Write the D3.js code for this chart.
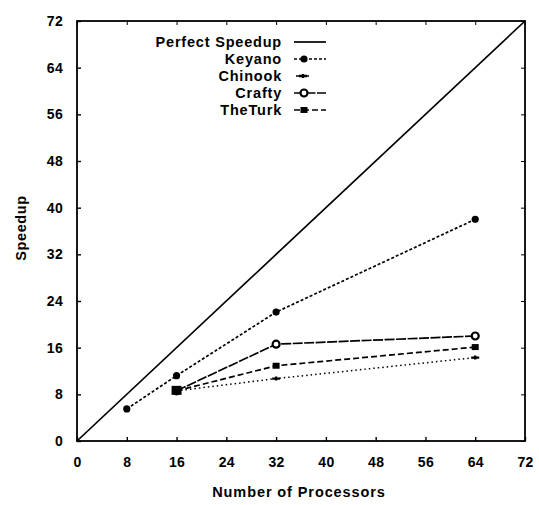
<!DOCTYPE html>
<html>
<head>
<meta charset="utf-8">
<script src="https://cdn.jsdelivr.net/npm/d3@7"></script>
<style>
  body { margin: 0; background: #fff; }
  text { font-family: "Liberation Sans", Arial, sans-serif; font-weight: bold; fill: #000; }
</style>
</head>
<body>
<svg id="chart" width="539" height="505"></svg>
<script>
// Speedup vs number of processors
const xTicks = [0, 8, 16, 24, 32, 40, 48, 56, 64, 72];
const yTicks = [0, 8, 16, 24, 32, 40, 48, 56, 64, 72];

const perfect = [[0, 0], [72, 72]];
const keyano  = [[8, 5.5], [16, 11.2], [32, 22.1], [64, 38.0]];
const chinook = [[16, 8.6], [32, 10.7], [64, 14.3]];
const crafty  = [[16, 8.6], [32, 16.6], [64, 18.0]];
const theTurk = [[16, 8.6], [32, 12.9], [64, 16.1]];

const seriesNames = ["Perfect Speedup", "Keyano", "Chinook", "Crafty", "TheTurk"];

const svg = d3.select("#chart");
const m = { left: 77, right: 525, top: 21, bottom: 441 };

const x = d3.scaleLinear().domain([0, 72]).range([m.left, m.right]);
const y = d3.scaleLinear().domain([0, 72]).range([m.bottom, m.top]);

// frame
svg.append("rect")
  .attr("x", m.left).attr("y", m.top)
  .attr("width", m.right - m.left).attr("height", m.bottom - m.top)
  .attr("fill", "none").attr("stroke", "#000").attr("stroke-width", 1.8);

// inward ticks (mirrored)
const tl = 4;
const xAxB = d3.axisBottom(x).tickValues(xTicks).tickSize(-tl).tickFormat(d => d);
const gx = svg.append("g").attr("transform", `translate(0,${m.bottom})`).call(xAxB);
gx.select(".domain").remove();
gx.selectAll("line").attr("stroke-width", 1.4);
gx.selectAll("text").attr("y", 16).attr("font-size", 14)
  .style("font-weight", "bold").style("letter-spacing", "0.3px");

const xAxT = d3.axisTop(x).tickValues(xTicks).tickSize(-tl).tickFormat("");
const gxt = svg.append("g").attr("transform", `translate(0,${m.top})`).call(xAxT);
gxt.select(".domain").remove();

const yAxL = d3.axisLeft(y).tickValues(yTicks).tickSize(-tl).tickFormat(d => d);
const gy = svg.append("g").attr("transform", `translate(${m.left},0)`).call(yAxL);
gy.select(".domain").remove();
gy.selectAll("line").attr("stroke-width", 1.4);
gy.selectAll("text").attr("x", -14).attr("font-size", 14)
  .style("font-weight", "bold").style("letter-spacing", "0.3px");

const yAxR = d3.axisRight(y).tickValues(yTicks).tickSize(-tl).tickFormat("");
const gyr = svg.append("g").attr("transform", `translate(${m.right},0)`).call(yAxR);
gyr.select(".domain").remove();

// axis titles
svg.append("text")
  .attr("x", 299).attr("y", 497)
  .attr("text-anchor", "middle").attr("font-size", 14.5)
  .style("letter-spacing", "0.9px")
  .text("Number of Processors");
svg.append("text")
  .attr("transform", "translate(26,228) rotate(-90)")
  .attr("text-anchor", "middle").attr("font-size", 14.5)
  .style("letter-spacing", "0.6px")
  .text("Speedup");

const line = d3.line().x(d => x(d[0])).y(d => y(d[1]));

const styles = [
  { data: perfect, dash: null, width: 1.7, marker: null },
  { data: keyano,  dash: "3,2", width: 1.7, marker: "dot" },
  { data: chinook, dash: "1.5,3", width: 1.5, marker: "small" },
  { data: crafty,  dash: "10,1.5", width: 1.7, marker: "open" },
  { data: theTurk, dash: "6,3", width: 1.7, marker: "square" }
];

function drawMarker(g, kind, cx, cy) {
  if (kind === "dot") {
    g.append("circle").attr("cx", cx).attr("cy", cy).attr("r", 3.6).attr("fill", "#000");
  } else if (kind === "small") {
    g.append("path").attr("d", `M${cx - 4},${cy}L${cx + 4},${cy}M${cx},${cy - 2}L${cx},${cy + 2}`)
      .attr("stroke", "#000").attr("stroke-width", 2.4);
  } else if (kind === "open") {
    g.append("circle").attr("cx", cx).attr("cy", cy).attr("r", 3.5)
      .attr("fill", "#fff").attr("stroke", "#000").attr("stroke-width", 2.2);
  } else if (kind === "square") {
    g.append("rect").attr("x", cx - 3.5).attr("y", cy - 3).attr("width", 7).attr("height", 6).attr("fill", "#000");
  }
}

const plot = svg.append("g");
styles.forEach(s => {
  plot.append("path")
    .datum(s.data)
    .attr("d", line)
    .attr("fill", "none")
    .attr("stroke", "#000")
    .attr("stroke-width", s.width)
    .attr("stroke-dasharray", s.dash);
});
styles.forEach(s => {
  if (!s.marker) return;
  s.data.forEach(d => drawMarker(plot, s.marker, x(d[0]), y(d[1])));
});
// shared starting point of three programs at 16 processors
plot.append("rect")
  .attr("x", x(16) - 5).attr("y", y(8.6) - 5).attr("width", 10).attr("height", 9).attr("fill", "#000");

// legend
const legY0 = 42, legStep = 17;
const lg = svg.append("g");
seriesNames.forEach((name, i) => {
  const ly = legY0 + i * legStep;
  lg.append("text")
    .attr("x", 282).attr("y", ly + 5)
    .attr("text-anchor", "end").attr("font-size", 14.5)
    .style("letter-spacing", "0.8px")
    .text(name);
  const s = styles[i];
  let x1 = 294, x2 = 326;
  if (i === 2) { x1 = 296; x2 = 309; }
  lg.append("line")
    .attr("x1", x1).attr("x2", x2).attr("y1", ly).attr("y2", ly)
    .attr("stroke", "#000").attr("stroke-width", s.width)
    .attr("stroke-dasharray", i === 2 ? null : s.dash);
  if (s.marker) drawMarker(lg, s.marker, i === 2 ? 303 : 304, ly);
});
</script>
</body>
</html>
